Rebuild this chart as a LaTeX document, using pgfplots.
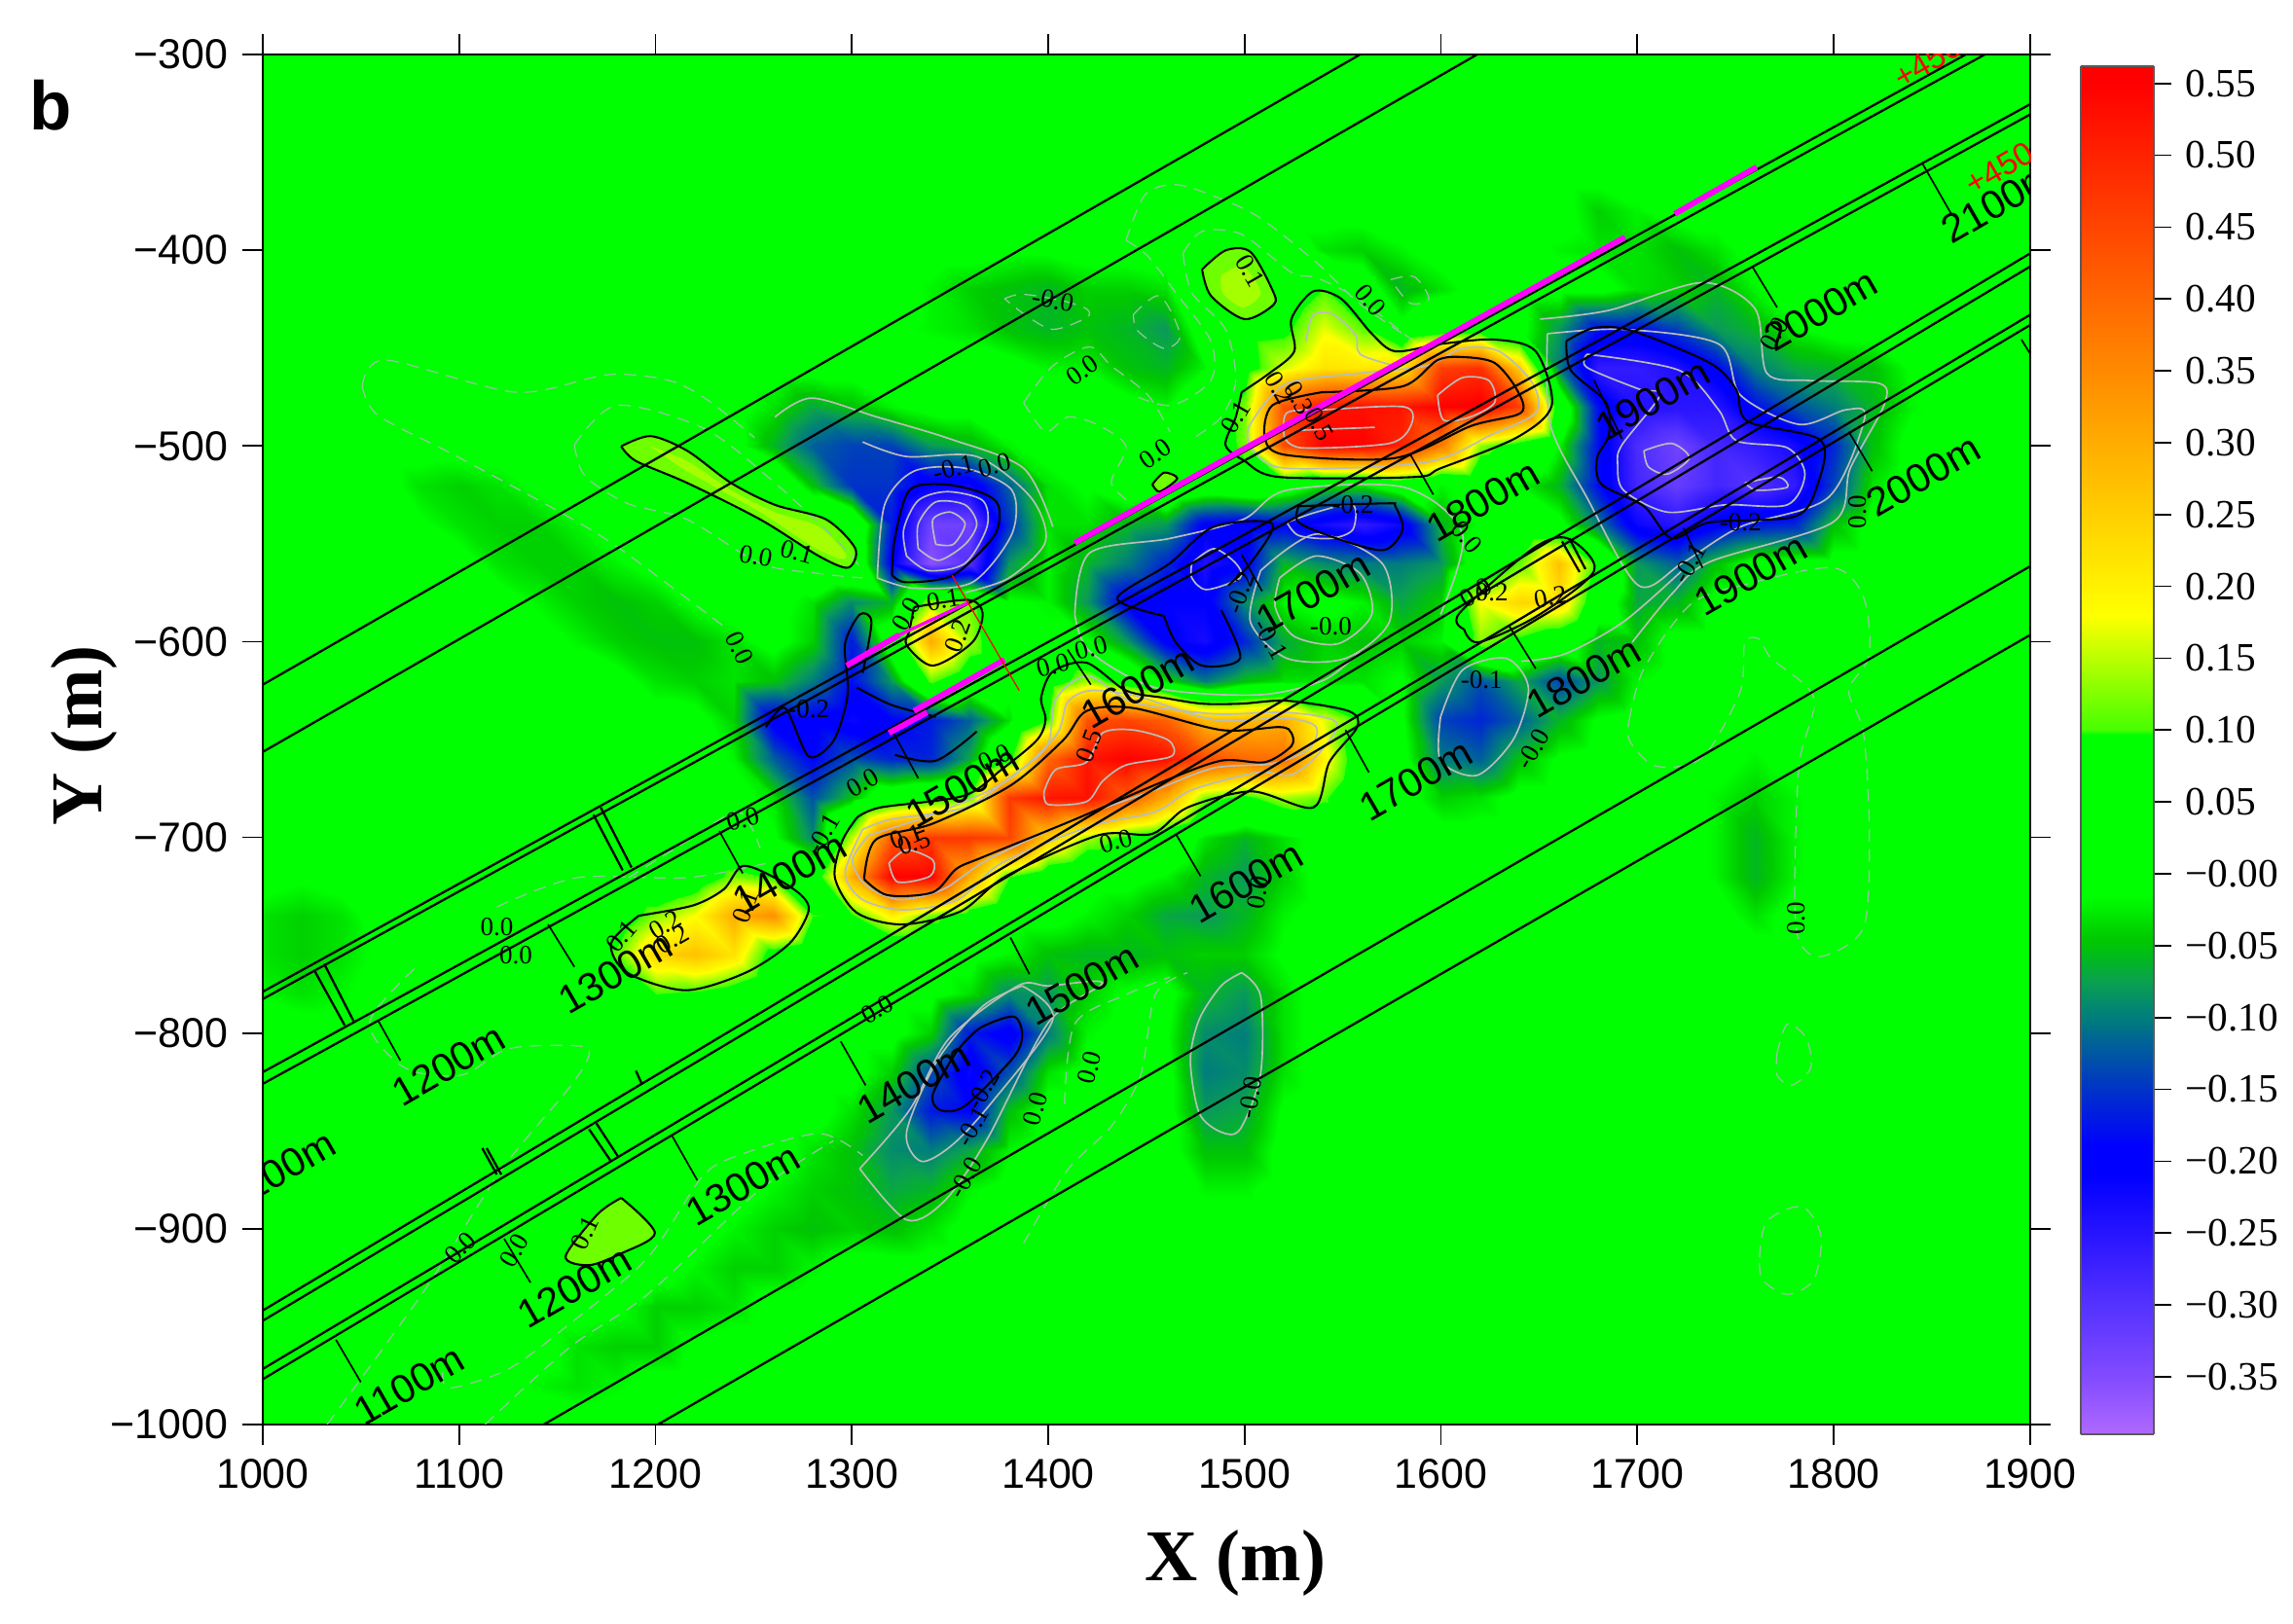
\documentclass[border=0pt]{standalone}
\usepackage{fontspec}
\setmainfont{Liberation Sans}
\newfontfamily\tms{Liberation Serif}
\usepackage{pgfplots}
\usepackage{pgfplotstable}
\pgfplotsset{compat=1.18}
\pgfplotsset{colormap={cb}{
rgb255(0)=(175,105,255); rgb255(40)=(130,75,255); rgb255(90)=(85,50,255); rgb255(140)=(40,20,255);
rgb255(180)=(0,0,255); rgb255(200)=(0,0,255); rgb255(240)=(0,50,200); rgb255(290)=(0,125,125);
rgb255(315)=(10,160,80); rgb255(335)=(0,190,20); rgb255(345)=(0,200,0); rgb255(375)=(0,255,0);
rgb255(487)=(0,255,0); rgb255(490)=(70,255,0); rgb255(570)=(255,255,0); rgb255(940)=(255,0,0); rgb255(952)=(255,0,0)}}
% grid of values (in hundredths), x = 1000,1020,...,1900 ; first column is y
\pgfplotstableread{
y a1 a2 a3 a4 a5 b1 b2 b3 b4 b5 c1 c2 c3 c4 c5 d1 d2 d3 d4 d5 e1 e2 e3 e4 e5 f1 f2 f3 f4 f5 g1 g2 g3 g4 g5 h1 h2 h3 h4 h5 i1 i2 i3 i4 i5 j
-300 0 0 0 0 0  0 0 0 0 0  0 0 0 0 0  0 0 0 0 0  0 0 0 0 0  0 0 0 0 0  0 0 0 0 0  0 0 0 0 0  0 0 0 0 0  0
-320 0 0 0 0 0  0 0 0 0 0  0 0 0 0 0  0 0 0 0 0  0 0 0 0 0  0 0 0 0 0  0 0 0 0 0  0 0 0 0 0  0 0 0 0 0  0
-340 0 0 0 0 0  0 0 0 0 0  0 0 0 0 0  0 0 0 0 0  0 0 0 0 0  0 0 0 0 0  0 0 0 0 0  0 0 0 0 0  0 0 0 0 0  0
-360 0 0 0 0 0  0 0 0 0 0  0 0 0 0 0  0 0 0 0 0  0 0 0 0 0  0 0 0 0 0  0 0 0 0 0  0 0 0 0 0  0 0 0 0 0  0
-380 0 0 0 0 0  0 0 0 0 0  0 0 0 0 0  0 0 0 0 0  0 0 0 0 0  0 0 0 0 0  0 0 0 0 -4  -2 0 0 0 0  0 0 0 0 0  0
-400 0 0 0 0 0  0 0 0 0 0  0 0 0 0 0  0 0 0 0 -1  -1 0 0 0 3  8 3 -3 -4 -2  0 0 0 -2 -3  -3 -5 -3 0 0  0 0 0 0 0  0
-420 0 0 0 0 0  0 0 0 0 0  0 0 0 0 0  0 0 -2 -4 -5  -6 -4 -4 -3 8  8 3 10 2 -6  -3 0 0 0 0  -3 -4 -6 -2 0  0 0 0 0 0  0
-440 0 0 0 0 0  0 0 0 0 0  0 0 0 0 0  0 -1 -2 -3 -5  -6 -5 -6 -8 2  7 8 17 11 0  5 5 0 -8 -18  -18 -14 -8 -6 -2  0 0 0 0 0  0
-460 0 0 0 0 0  0 0 0 0 0  0 0 0 0 0  0 0 0 0 0  -2 -2 -5 -6 -2  6 16 22 21 22  46 48 25 -10 -26  -26 -24 -19 -10 -7  -6 -5 -1 0 0  0
-480 0 0 0 0 0  0 0 0 0 2  3 0 0 -3 -7  -5 -2 0 0 0  0 0 0 -2 3  12 43 52 53 52  55 56 46 5 -18  -24 -25 -25 -18 -13  -10 -6 -2 0 0  0
-500 0 0 0 0 0  0 0 0 0 8  8 8 0 -6 -12  -14 -14 -8 -6 -2  0 0 0 0 2  12 44 55 55 50  37 13 6 -2 -18  -29 -33 -28 -26 -23  -16 -5 0 0 0  0
-520 0 0 0 0 -3  -4 -3 -1 0 0  2 8 8 6 -5  -15 -15 -21 -22 -12  -3 -1 2 8 4  6 3 -3 -3 3  -2 0 -2 -6 -18  -28 -32 -28 -30 -26  -14 -3 0 0 0  0
-540 0 0 0 0 -1  -3 -4 -4 -2 0  0 2 6 8 8  8 -17 -33 -33 -15  -3 -3 -6 -8 -20  -21 -19 -23 -26 -22  -6 -1 0 0 -10  -22 -25 -20 -17 -16  -5 0 0 0 0  0
-560 0 0 0 0 0  0 -3 -4 -4 -2  0 0 0 3 7  8 -20 -36 -30 -8  -2 -6 -10 -16 -24  -20 -6 -9 -10 -10  -8 2 11 27 8  -8 -12 -5 0 0  0 0 0 0 0  0
-580 0 0 0 0 0  0 0 -2 -4 -5  -4 -1 0 0 -3  -9 -6 14 12 -1  -2 -8 -20 -21 -21  -9 -2 0 -2 -7  -4 18 24 23 3  -7 -6 0 0 0  0 0 0 0 0  0
-600 0 0 0 0 0  0 0 0 -2 -4  -5 -5 -3 0 -4  -17 3 30 14 0  -1 -1 -8 -20 -23  -16 -7 -4 -5 -4  -2 13 8 3 -6  -5 0 0 0 0  0 0 0 0 0  0
-620 0 0 0 0 0  0 0 0 0 0  -3 -4 -3 -5 -10  -18 -8 11 3 0  5 14 5 -3 -10  -5 -3 -3 -3 -1  -8 -13 -7 -14 -8  -2 0 0 0 0  0 0 0 0 0  0
-640 0 0 0 0 0  0 0 0 0 0  0 0 -4 -21 -20  -22 -19 -17 -12 -3  10 43 45 41 28  28 30 17 9 -1  -14 -16 -12 -6 -1  0 0 0 0 0  0 0 0 0 0  0
-660 0 0 0 0 0  0 0 0 0 0  0 0 -2 -12 -19  -13 -16 -16 -7 8  40 52 55 53 44  40 39 20 3 0  -10 -12 -5 -1 0  0 0 0 -2 0  0 0 0 0 0  0
-680 0 0 0 0 0  0 0 0 0 0  0 0 0 -3 -13  -5 4 7 11 47  52 53 42 30 12  8 14 11 0 0  -4 -3 0 0 0  0 0 -2 -4 -2  0 0 0 0 0  0
-700 0 0 0 0 0  0 0 0 0 0  0 0 0 -1 -9  15 42 47 47 45  25 14 8 4 -3  -6 -3 0 0 0  0 0 0 0 0  0 0 -2 -6 -2  0 0 0 0 0  0
-720 0 -1 0 0 0  0 0 0 0 0  0 4 12 9 4  30 55 55 30 10  3 0 0 -2 -6  -8 -4 0 0 0  0 0 0 0 0  0 0 -2 -6 -2  0 0 0 0 0  0
-740 -3 -4 -3 0 0  0 0 0 0 4  13 18 30 34 10  9 20 12 6 0  0 -2 -4 -7 -8  -6 -2 0 0 0  0 0 0 0 0  0 0 0 -3 0  0 0 0 0 0  0
-760 -3 -4 -3 -1 0  0 0 0 0 11  24 27 22 6 0  0 0 0 0 -2  -5 -6 -6 -5 -4  -4 -1 0 0 0  0 0 0 0 0  0 0 0 0 0  0 0 0 0 0  0
-780 -2 -3 -2 0 0  0 0 0 0 1  10 9 6 0 0  0 0 0 -3 -9  -8 -4 -1 0 -6  -8 -3 0 0 0  0 0 0 0 0  0 0 0 0 0  0 0 0 0 0  0
-800 0 0 0 0 0  0 0 0 0 0  0 0 0 0 0  0 0 -4 -17 -21  -10 -2 0 -1 -9  -10 -3 0 0 0  0 0 0 0 0  0 0 0 0 0  0 0 0 0 0  0
-820 0 0 0 0 0  0 0 0 0 0  0 0 0 0 0  0 -4 -13 -22 -13  -3 0 0 0 -10  -9 -3 0 0 0  0 0 0 0 0  0 0 0 0 0  0 0 0 0 0  0
-840 0 0 0 0 0  0 0 0 0 0  0 0 0 0 0  -3 -8 -17 -19 -5  0 0 0 0 -8  -7 -1 0 0 0  0 0 0 0 0  0 0 0 0 0  0 0 0 0 0  0
-860 0 0 0 0 0  0 0 0 0 0  0 0 0 0 -3  -5 -9 -10 -7 -2  0 0 0 0 -5  -5 0 0 0 0  0 0 0 0 0  0 0 0 0 0  0 0 0 0 0  0
-880 0 0 0 0 0  0 0 0 0 8  0 0 0 -2 -4  -5 -7 -6 -2 0  0 0 0 0 -2  -2 0 0 0 0  0 0 0 0 0  0 0 0 0 0  0 0 0 0 0  0
-900 0 0 0 0 0  0 0 2 8 8  8 0 -2 -4 -5  -4 -5 -3 0 0  0 0 0 0 0  0 0 0 0 0  0 0 0 0 0  0 0 0 0 0  0 0 0 0 0  0
-920 0 0 0 0 0  0 0 0 8 5  0 -2 -4 -4 -2  0 0 0 0 0  0 0 0 0 0  0 0 0 0 0  0 0 0 0 0  0 0 0 0 0  0 0 0 0 0  0
-940 0 0 0 0 0  0 0 0 0 -1  -4 -4 -3 0 0  0 0 0 0 0  0 0 0 0 0  0 0 0 0 0  0 0 0 0 0  0 0 0 0 0  0 0 0 0 0  0
-960 0 0 0 0 0  0 0 0 -3 -4  -4 -1 0 0 0  0 0 0 0 0  0 0 0 0 0  0 0 0 0 0  0 0 0 0 0  0 0 0 0 0  0 0 0 0 0  0
-980 0 0 0 0 0  0 0 -2 -3 -2  0 0 0 0 0  0 0 0 0 0  0 0 0 0 0  0 0 0 0 0  0 0 0 0 0  0 0 0 0 0  0 0 0 0 0  0
-1000 0 0 0 0 0  0 0 0 0 0  0 0 0 0 0  0 0 0 0 0  0 0 0 0 0  0 0 0 0 0  0 0 0 0 0  0 0 0 0 0  0 0 0 0 0  0
}\gridtable
\gdef\gridcoords{}
\foreach \r in {0,...,35}{%
  \pgfplotstablegetelem{\r}{[index]0}\of\gridtable
  \let\yy\pgfplotsretval
  \foreach \c in {1,...,46}{%
    \pgfplotstablegetelem{\r}{[index]\c}\of\gridtable
    \xdef\gridcoords{\gridcoords (\the\numexpr 980+20*\c\relax,\yy,\pgfplotsretval)}%
  }%
}
\newcommand\surfplot[1]{\addplot3[surf,shader=interp,mesh/cols=46,mesh/ordering=x varies] coordinates {#1};}
\newcommand\ticklab{\fontsize{10.3}{12}\selectfont}
\newcommand\klab{\fontsize{9.9}{11}\selectfont}
\newcommand\clab{\tms\fontsize{6.5}{7}\selectfont}
\definecolor{ygA}{RGB}{110,255,0}
\definecolor{ygB}{RGB}{165,255,0}
\tikzset{
  bc/.style={black,line width=0.5pt,smooth},
  gc/.style={color={rgb,255:red,185;green,190;blue,185},line width=0.4pt,smooth},
  gd/.style={color={rgb,255:red,150;green,195;blue,160},line width=0.3pt,densely dashed,smooth},
  tl/.style={black,line width=0.55pt},
  tk/.style={black,line width=0.4pt},
  mg/.style={color={rgb,255:red,255;green,0;blue,255},line width=1.4pt},
  km/.style={font=\klab,rotate=30,inner sep=0pt},
  cl/.style={font=\clab,inner sep=0pt}
}
\begin{document}
\begin{tikzpicture}
\useasboundingbox (0,0) rectangle (565.44pt,400.56pt);
% main map
\begin{axis}[at={(64.8pt,49.2pt)},anchor=south west,scale only axis,width=435.84pt,height=337.92pt,
  view={0}{90},xmin=1000,xmax=1900,ymin=-1000,ymax=-300,
  xtick={1000,1100,...,1900},ytick={-1000,-900,...,-300},
  xticklabels={1000,1100,1200,1300,1400,1500,1600,1700,1800,1900},
  yticklabels={−1000,−900,−800,−700,−600,−500,−400,−300},
  tick align=outside,tickpos=both,xticklabel pos=bottom,yticklabel pos=left,
  major tick length=5pt,tick style={black,line width=0.4pt},
  ticklabel style={font=\ticklab},
  axis line style={line width=0.5pt},axis on top,
  colormap name=cb,point meta min=-39,point meta max=56.2,
  xlabel={\tms\bfseries\fontsize{18}{20}\selectfont X (m)},
  ylabel={\tms\bfseries\fontsize{18}{20}\selectfont Y (m)},
  xlabel style={at={(axis description cs:0.5505,-0.1013)},anchor=center},
  ylabel style={at={(axis description cs:-0.101,0.503)},anchor=center},
]
\expandafter\surfplot\expandafter{\gridcoords}
\end{axis}
% overlay in digitised map coordinates
\begin{axis}[at={(64.8pt,49.2pt)},anchor=south west,scale only axis,width=435.84pt,height=337.92pt,
  hide axis,xmin=180,xmax=1388,ymin=37,ymax=974,y dir=reverse]
% low positive patches
\addplot[fill=ygA,draw=none,smooth] coordinates {(425,305)(445,298)(470,308)(500,330)(530,345)(565,355)(585,375)(580,388)(560,380)(520,355)(470,330)(435,315)(425,305)};
\addplot[fill=ygB,draw=none,smooth] coordinates {(445,305)(470,315)(500,335)(530,350)(560,360)(578,378)(575,382)(555,373)(520,350)(470,322)(445,305)};
\addplot[fill=ygA,draw=none,smooth] coordinates {(822,184)(838,171)(855,172)(870,198)(871,208)(851,218)(828,202)(822,184)};
\addplot[fill=ygB,draw=none,smooth] coordinates {(835,188)(850,182)(862,200)(850,210)(836,200)(835,188)};
\addplot[fill=ygA,draw=none,smooth] coordinates {(425,819)(448,843)(425,857)(403,865)(387,859)(409,830)(425,819)};
\addplot[fill=ygA,draw=none,smooth] coordinates {(788,331)(796,323)(805,327)(793,336)(788,331)};
% thin contours
\addplot[gd] coordinates {(248,264)(264,246)(353,268)(416,256)(458,260)(485,274)(516,299)};
\addplot[gd] coordinates {(248,264)(259,284)(311,311)(385,351)(424,375)(495,428)};
\addplot[gd] coordinates {(393,304)(422,277)(482,293)(530,330)(575,372)(590,390)};
\addplot[gd] coordinates {(393,304)(400,325)(429,344)(470,355)(520,385)(560,392)(590,395)};
\addplot[gd] coordinates {(770,164)(783,133)(804,126)(833,135)(862,149)(901,180)(928,206)(959,228)};
\addplot[gd] coordinates {(770,164)(785,175)(804,200)(828,233)(828,260)(801,277)(775,270)};
\addplot[gd] coordinates {(809,173)(822,158)(849,160)(883,186)(901,190)(930,205)(965,232)};
\addplot[gd] coordinates {(809,173)(815,200)(838,225)(845,260)(835,285)(815,300)};
\addplot[gd] coordinates {(687,204)(699,201)(725,205)(743,211)(743,217)(720,225)(701,215)(687,204)};
\addplot[gd] coordinates {(775,215)(793,202)(807,229)(796,238)(778,226)(775,215)};
\addplot[gd] coordinates {(951,191)(967,189)(977,204)(964,207)(951,191)};
\addplot[gd] coordinates {(700,275)(720,250)(745,237)(760,250)(785,270)(800,295)};
\addplot[gd] coordinates {(700,275)(715,295)(730,285)(750,290)(770,305)(760,330)(775,345)};
\addplot[gd] coordinates {(1114,492)(1124,457)(1156,413)(1195,399)(1253,388)(1274,408)(1278,448)(1264,472)(1274,501)(1278,568)(1274,634)(1245,654)(1230,643)(1227,608)(1230,523)(1240,477)(1211,450)(1203,437)(1193,439)(1190,472)(1169,512)(1153,523)(1130,523)(1114,506)(1114,492)};
\addplot[gc] coordinates {(849,665)(862,681)(862,734)(848,772)(835,774)(820,761)(814,725)(820,697)(835,674)(849,665)};
\addplot[gc] coordinates {(588,799)(620,834)(646,821)(675,779)(717,699)(754,672)(717,674)(696,674)(649,710)(622,759)(588,799)};
\addplot[gc] coordinates {(699,674)(720,697)(678,754)(651,783)(630,794)(620,774)(641,725)(672,688)(699,674)};
\addplot[gd] coordinates {(224,974)(290,883)(343,800)(390,743)(403,721)(395,715)(348,717)(316,735)(277,730)(253,699)(285,661)};
\addplot[gd] coordinates {(303,938)(308,949)(348,936)(390,905)(443,860)(480,805)(505,790)(560,775)(590,790)};
\addplot[gd] coordinates {(332,974)(390,921)(443,885)(519,814)(570,780)};
\addplot[gd] coordinates {(430,600)(470,575)(505,555)(520,580)};
\addplot[gd] coordinates {(340,620)(395,600)(470,600)(525,590)};
\addplot[gd] coordinates {(700,850)(730,800)(760,770)(780,735)(790,680)(812,665)};
\addplot[gd] coordinates {(728,755)(735,700)(770,680)(800,668)};
\addplot[gd] coordinates {(1215,720)(1222,700)(1235,710)(1238,730)(1225,742)(1215,735)(1215,720)};
\addplot[gd] coordinates {(1203,860)(1208,835)(1232,825)(1245,845)(1240,875)(1222,885)(1205,875)(1203,860)};
\addplot[gc] coordinates {(1053,218)(1100,212)(1164,193)(1200,211)(1208,255)(1237,260)(1285,262)(1288,277)(1265,320)(1253,357)(1169,384)(1143,406)(1116,439)};
\addplot[gc] coordinates {(1058,228)(1110,225)(1175,235)(1190,270)(1230,290)(1262,280)(1275,285)(1250,340)(1190,360)(1150,385)(1120,400)(1085,340)(1060,290)(1058,228)};
\addplot[gc] coordinates {(1085,242)(1148,253)(1175,280)(1187,301)(1222,306)(1234,324)(1222,345)(1180,345)(1140,350)(1110,335)(1106,317)(1109,304)(1135,270)(1121,266)(1085,251)(1085,242)};
\addplot[gc] coordinates {(1124,308)(1143,303)(1155,313)(1140,324)(1127,319)(1124,308)};
\addplot[gc] coordinates {(1193,330)(1216,326)(1222,333)(1201,335)(1193,330)};
\addplot[gc] coordinates {(620,380)(635,390)(660,385)(675,360)(672,342)(648,336)(628,342)(618,362)(620,380)};
\addplot[gc] coordinates {(628,375)(642,383)(660,372)(668,358)(660,345)(640,343)(628,358)(628,375)};
\addplot[gc] coordinates {(640,372)(652,372)(660,358)(650,350)(638,355)(640,372)};
\addplot[gc] coordinates {(600,395)(625,402)(665,398)(692,365)(692,335)(660,320)(625,322)(605,345)(600,395)};
\addplot[gc] coordinates {(590,302)(620,312)(668,312)(705,340)(715,370)(690,395)(660,405)};
\addplot[gc] coordinates {(530,285)(555,272)(600,285)(650,300)(700,320)(720,360)};
\addplot[gc] coordinates {(590,567)(610,560)(660,552)(690,532)(716,510)(722,478)(744,462)(775,480)(830,488)(880,487)(914,494)(900,517)(882,530)(860,528)(815,540)(790,555)(745,565)(685,590)(655,615)(618,622)(590,615)(578,597)(590,567)};
\addplot[gc] coordinates {(594,571)(640,556)(688,534)(722,503)(730,480)(746,472)(778,476)(830,492)(880,491)(900,497)(895,512)(870,522)(830,525)(790,540)(735,560)(675,588)(645,608)(615,615)(592,605)(583,588)(594,571)};
\addplot[gc] coordinates {(714,541)(722,526)(743,521)(754,501)(775,499)(799,506)(801,517)(770,523)(754,534)(743,548)(717,550)(714,541)};
\addplot[gc] coordinates {(608,590)(620,581)(638,588)(636,599)(614,603)(608,590)};
\addplot[gc] coordinates {(893,233)(898,215)(912,215)(927,229)(930,242)(954,250)};
\addplot[gc] coordinates {(858,285)(880,262)(930,255)(975,250)(1000,238)(1025,240)(1048,262)(1050,282)(1020,297)(975,316)(880,320)(857,308)(853,295)(858,285)};
\addplot[gc] coordinates {(878,298)(880,282)(905,280)(960,278)(965,290)(950,303)(890,306)(878,298)};
\addplot[gc] coordinates {(888,294)(940,292)};
\addplot[gc] coordinates {(983,270)(1000,258)(1018,260)(1022,275)(1005,285)(987,287)(983,270)};
\addplot[gc] coordinates {(875,395)(900,380)(930,392)(938,420)(915,440)(885,435)(872,415)(875,395)};
\addplot[gc] coordinates {(862,390)(900,365)(945,385)(950,425)(920,450)(880,450)(855,425)(862,390)};
\addplot[gc] coordinates {(880,357)(900,350)(925,345)(925,362)(910,368)(888,366)(880,357)};
\addplot[gc] coordinates {(815,385)(830,375)(845,385)(848,395)(825,403)(815,395)(815,385)};
\addplot[gc] coordinates {(735,420)(745,378)(800,368)(850,355)(880,335)(960,333)(1000,365)(985,420)};
\addplot[gc] coordinates {(735,420)(745,445)(790,470)(860,475)(905,465)(930,445)};
\addplot[gc] coordinates {(985,490)(1000,458)(1030,450)(1045,470)(1035,505)(1010,530)(985,520)(985,490)};
\addplot[gc] coordinates {(1040,452)(1070,447)(1110,425)(1150,390)};
% main black contours
\addplot[bc] coordinates {(425,305)(445,298)(470,308)(500,330)(530,345)(565,355)(585,375)(580,388)(560,380)(520,355)(470,330)(435,315)(425,305)};
\addplot[bc] coordinates {(822,184)(838,171)(855,172)(870,198)(871,208)(851,218)(828,202)(822,184)};
\addplot[bc] coordinates {(788,331)(796,323)(805,327)(793,336)(788,331)};
\addplot[bc] coordinates {(849,268)(868,255)(885,240)(883,218)(898,199)(917,204)(938,228)(954,240)(985,235)(1022,232)(1050,240)(1061,277)(1037,299)(985,320)(967,326)(875,326)(851,315)(838,304)(845,285)(849,268)};
\addplot[bc] coordinates {(904,268)(959,264)(983,246)(1001,244)(1022,248)(1037,266)(1040,282)(1006,291)(954,313)(880,311)(865,300)(870,277)(904,268)};
\addplot[bc] coordinates {(610,393)(620,398)(652,393)(680,366)(683,346)(672,337)(646,331)(622,335)(612,368)(610,393)};
\addplot[bc] coordinates {(625,415)(662,410)(672,419)(665,439)(638,455)(620,441)(622,431)(625,415)};
\addplot[bc] coordinates {(586,559)(602,552)(659,544)(685,526)(709,506)(715,492)(712,477)(720,459)(743,453)(770,472)(796,477)(822,481)(849,481)(880,479)(922,486)(928,497)(909,521)(898,552)(856,541)(812,552)(788,570)(751,571)(688,599)(657,623)(617,632)(586,624)(571,600)(576,575)(586,559)};
\addplot[bc] coordinates {(591,601)(607,612)(638,610)(654,594)(672,586)(733,561)(796,534)(835,520)(865,521)(883,510)(883,501)(875,497)(835,499)(775,484)(743,486)(727,506)(691,537)(638,563)(599,574)(591,601)};
\addplot[bc] coordinates {(437,626)(474,619)(495,608)(508,592)(530,600)(548,612)(553,623)(540,645)(510,665)(469,677)(429,665)(418,645)(437,626)};
\addplot[bc] coordinates {(524,497)(537,484)(553,517)(569,508)(577,488)(580,470)(578,440)(588,420)(596,425)(590,460)};
\addplot[bc] coordinates {(586,470)(610,482)(640,490)};
\addplot[bc] coordinates {(612,516)(640,520)(668,500)};
\addplot[bc] coordinates {(796,421)(804,439)(822,455)(848,450)(835,417)};
\addplot[bc] coordinates {(796,421)(764,409)(800,385)(830,360)(870,358)(855,385)(840,400)};
\addplot[bc] coordinates {(888,346)(888,357)(914,368)(946,376)(959,362)(954,346)(948,344)(888,346)};
\addplot[bc] coordinates {(1071,233)(1090,224)(1116,226)(1169,248)(1187,266)(1195,288)(1245,301)(1242,333)(1227,353)(1169,357)(1143,368)(1124,346)(1095,331)(1092,313)(1100,297)(1098,275)(1074,253)(1071,233)};
\addplot[bc] coordinates {(654,719)(670,703)(693,695)(699,707)(693,723)(660,756)(643,759)(638,748)(654,719)};
\addplot[bc] coordinates {(425,819)(448,843)(425,857)(403,865)(387,859)(409,830)(425,819)};
\addplot[bc] coordinates {(1001,430)(1011,439)(1051,421)(1090,390)(1072,368)(1048,375)(998,419)(1001,430)};
% straight lines
\addplot[tl] coordinates {(180,468)(930,37)};
\addplot[tl] coordinates {(180,514)(1010,37)};
\addplot[tl] coordinates {(180,678)(1344,37)};
\addplot[tl] coordinates {(180,683)(1357,37)};
\addplot[tl] coordinates {(180,733)(1388,71)};
\addplot[tl] coordinates {(180,741)(1388,78)};
\addplot[tl] coordinates {(180,896)(1388,173)};
\addplot[tl] coordinates {(180,903)(1388,182)};
\addplot[tl] coordinates {(180,936)(1388,215)};
\addplot[tl] coordinates {(180,943)(1388,222)};
\addplot[tl] coordinates {(372,974)(1388,387)};
\addplot[tl] coordinates {(450,974)(1388,434)};
\addplot[tl] coordinates {(406,557)(426,595)};
\addplot[tl] coordinates {(411,552)(432,593)};
\addplot[tl] coordinates {(215,663)(236,701)};
\addplot[tl] coordinates {(222,659)(242,698)};
\addplot[tl] coordinates {(403,772)(418,794)};
\addplot[tl] coordinates {(408,768)(423,791)};
\addplot[tl] coordinates {(330,785)(340,803)};
\addplot[tl] coordinates {(333,785)(343,803)};
\addplot[tl] coordinates {(435,732)(439,741)};
\addplot[tl] coordinates {(1068,370)(1080,391)};
\addplot[tl] coordinates {(1073,368)(1084,389)};
% chainage ticks
\addplot[tk] coordinates {(259,698)(274,725)};
\addplot[tk] coordinates {(375,632)(393,661)};
\addplot[tk] coordinates {(492,568)(508,597)};
\addplot[tk] coordinates {(610,499)(628,532)};
\addplot[tk] coordinates {(730,444)(746,468)};
\addplot[tk] coordinates {(849,379)(863,404)};
\addplot[tk] coordinates {(964,310)(980,338)};
\addplot[tk] coordinates {(1090,260)(1109,300)};
\addplot[tk] coordinates {(1198,182)(1215,210)};
\addplot[tk] coordinates {(1314,111)(1334,146)};
\addplot[tk] coordinates {(230,916)(247,945)};
\addplot[tk] coordinates {(345,847)(363,877)};
\addplot[tk] coordinates {(460,777)(477,807)};
\addplot[tk] coordinates {(575,712)(592,742)};
\addplot[tk] coordinates {(691,641)(704,666)};
\addplot[tk] coordinates {(804,570)(821,599)};
\addplot[tk] coordinates {(920,499)(936,528)};
\addplot[tk] coordinates {(1032,428)(1050,457)};
\addplot[tk] coordinates {(1151,361)(1164,388)};
\addplot[tk] coordinates {(1264,295)(1280,322)};
\addplot[tk] coordinates {(1382,232)(1390,245)};
% magenta and red
\addplot[mg] coordinates {(735,371)(1111,162)};
\addplot[mg] coordinates {(1145,146)(1201,114)};
\addplot[mg] coordinates {(579,455)(615,434)};
\addplot[mg,line width=0.8pt] coordinates {(615,434)(662,412)};
\addplot[mg] coordinates {(625,486)(687,451)};
\addplot[mg] coordinates {(608,501)(634,487)};
\addplot[red,line width=0.3pt] coordinates {(651,393)(697,472)};
% chainage labels
\node[km] at (axis cs:192,800) {1100m};
\node[km] at (axis cs:307,728) {1200m};
\node[km] at (axis cs:421,665) {1300m};
\node[km] at (axis cs:540,597) {1400m};
\node[km] at (axis cs:658,538) {1500m};
\node[km] at (axis cs:778,470) {1600m};
\node[km] at (axis cs:898,405) {1700m};
\node[km] at (axis cs:1014,342) {1800m};
\node[km] at (axis cs:1130,273) {1900m};
\node[km] at (axis cs:1245,212) {2000m};
\node[km] at (axis cs:1366,138) {2100m};
\node[km] at (axis cs:280,947) {1100m};
\node[km] at (axis cs:393,880) {1200m};
\node[km] at (axis cs:508,810) {1300m};
\node[km] at (axis cs:625,740) {1400m};
\node[km] at (axis cs:740,673) {1500m};
\node[km] at (axis cs:852,603) {1600m};
\node[km] at (axis cs:968,533) {1700m};
\node[km] at (axis cs:1083,463) {1800m};
\node[km] at (axis cs:1197,393) {1900m};
\node[km] at (axis cs:1315,325) {2000m};
\node[font=\fontsize{8}{9}\selectfont,text=red,rotate=30,inner sep=0pt] at (axis cs:1367,115) {+450};
\node[font=\fontsize{8}{9}\selectfont,text=red,rotate=30,inner sep=0pt] at (axis cs:1318,42) {+450};
% contour labels
\node[cl,rotate=-10] at (axis cs:720,205) {-0.0};
\node[cl,rotate=35] at (axis cs:740,253) {0.0};
\node[cl,rotate=35] at (axis cs:790,310) {0.0};
\node[cl,rotate=-60] at (axis cs:855,185) {0.1};
\node[cl,rotate=-50] at (axis cs:937,205) {0.0};
\node[cl,rotate=60] at (axis cs:845,285) {0.1};
\node[cl,rotate=-60] at (axis cs:875,265) {0.2};
\node[cl,rotate=-60] at (axis cs:888,272) {0.3};
\node[cl,rotate=-60] at (axis cs:902,290) {0.5};
\node[cl,rotate=-10] at (axis cs:517,380) {0.0};
\node[cl,rotate=-15] at (axis cs:545,377) {0.1};
\node[cl,rotate=15] at (axis cs:680,318) {0.0};
\node[cl,rotate=15] at (axis cs:652,320) {-0.1};
\node[cl,rotate=-65] at (axis cs:506,443) {0.0};
\node[cl] at (axis cs:553,485) {-0.2};
\node[cl] at (axis cs:340,634) {0.0};
\node[cl] at (axis cs:353,653) {0.0};
\node[cl,rotate=15] at (axis cs:508,560) {0.0};
\node[cl,rotate=30] at (axis cs:590,535) {0.0};
\node[cl,rotate=60] at (axis cs:563,570) {-0.1};
\node[cl,rotate=50] at (axis cs:425,640) {0.1};
\node[cl,rotate=30] at (axis cs:455,632) {0.2};
\node[cl,rotate=30] at (axis cs:460,642) {0.2};
\node[cl,rotate=70] at (axis cs:510,620) {0.1};
\node[cl,rotate=20] at (axis cs:620,572) {0.1};
\node[cl,rotate=20] at (axis cs:625,576) {0.5};
\node[cl,rotate=25] at (axis cs:680,518) {0.0};
\node[cl,rotate=15] at (axis cs:720,455) {0.0};
\node[cl,rotate=15] at (axis cs:746,443) {0.0};
\node[cl,rotate=10] at (axis cs:645,410) {0.1};
\node[cl,rotate=60] at (axis cs:620,420) {0.0};
\node[cl,rotate=70] at (axis cs:655,435) {0.2};
\node[cl,rotate=70] at (axis cs:745,510) {0.5};
\node[cl,rotate=15] at (axis cs:763,575) {0.0};
\node[cl,rotate=80] at (axis cs:860,610) {0.0};
\node[cl] at (axis cs:910,428) {-0.0};
\node[cl,rotate=-60] at (axis cs:869,437) {-0.1};
\node[cl,rotate=70] at (axis cs:848,405) {-0.2};
\node[cl] at (axis cs:925,345) {-0.2};
\node[cl,rotate=-50] at (axis cs:1003,367) {0.0};
\node[cl,rotate=30] at (axis cs:1009,405) {0.0};
\node[cl] at (axis cs:1020,405) {0.2};
\node[cl,rotate=10] at (axis cs:1060,408) {0.2};
\node[cl] at (axis cs:1190,357) {-0.2};
\node[cl,rotate=60] at (axis cs:1155,385) {-0.1};
\node[cl,rotate=90] at (axis cs:1270,350) {0.0};
\node[cl,rotate=60] at (axis cs:1213,228) {0.0};
\node[cl] at (axis cs:1013,465) {-0.1};
\node[cl,rotate=60] at (axis cs:1048,512) {-0.0};
\node[cl,rotate=90] at (axis cs:1228,628) {0.0};
\node[cl,rotate=80] at (axis cs:855,750) {-0.0};
\node[cl,rotate=75] at (axis cs:745,730) {0.0};
\node[cl,rotate=75] at (axis cs:708,758) {0.0};
\node[cl,rotate=60] at (axis cs:672,745) {-0.2};
\node[cl,rotate=60] at (axis cs:665,770) {-0.1};
\node[cl,rotate=60] at (axis cs:660,805) {-0.0};
\node[cl,rotate=45] at (axis cs:315,853) {0.0};
\node[cl,rotate=60] at (axis cs:352,855) {0.0};
\node[cl,rotate=65] at (axis cs:400,843) {0.1};
\node[cl,rotate=30] at (axis cs:600,690) {0.0};
\end{axis}
% colour bar
\begin{axis}[at={(513.1pt,46.8pt)},anchor=south west,scale only axis,width=18pt,height=337.44pt,
  view={0}{90},xmin=0,xmax=1,ymin=-39,ymax=56.2,xtick=\empty,
  ytick={-35,-30,...,55},
  yticklabels={−0.35,−0.30,−0.25,−0.20,−0.15,−0.10,−0.05,−0.00,0.05,0.10,0.15,0.20,0.25,0.30,0.35,0.40,0.45,0.50,0.55},
  ytick pos=right,yticklabel pos=right,tick align=outside,major tick length=4.3pt,
  tick style={black,line width=0.4pt},
  yticklabel style={font=\tms\fontsize{9.9}{11}\selectfont},
  axis line style={color={rgb,255:red,90;green,90;blue,90},line width=0.5pt},axis on top,
  colormap name=cb,point meta min=-39,point meta max=56.2]
\addplot3[surf,shader=interp,mesh/cols=2,mesh/ordering=x varies] coordinates {(0,-39,-39)(1,-39,-39)(0,56.2,56.2)(1,56.2,56.2)};
\end{axis}
\node[font=\bfseries\fontsize{17}{19}\selectfont,anchor=center,inner sep=0pt] at (12.6pt,374.5pt) {b};
\end{tikzpicture}
\end{document}
